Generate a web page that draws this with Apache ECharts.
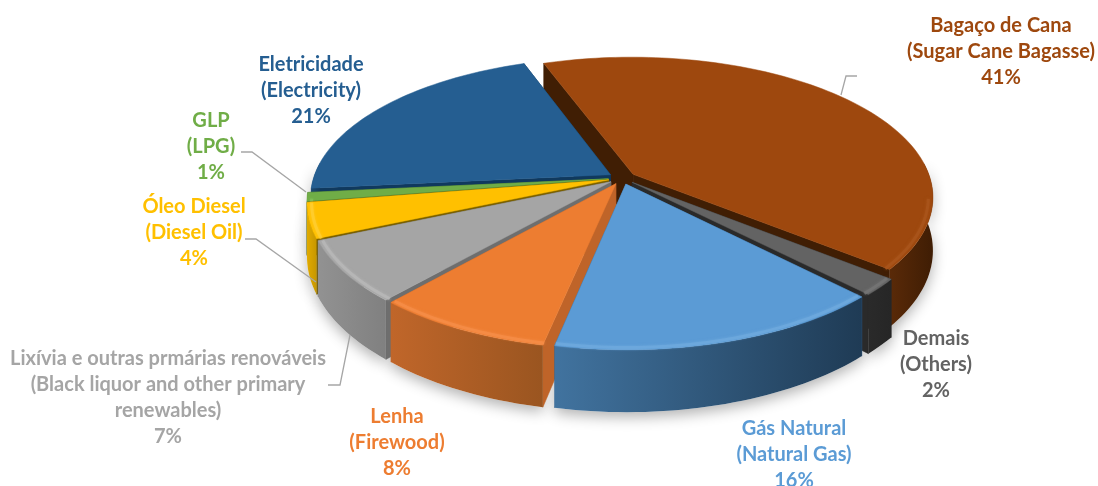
<!DOCTYPE html>
<html><head><meta charset="utf-8">
<style>html,body{margin:0;padding:0;background:#fff}#c{width:1098px;height:486px}</style>
<script src="https://cdn.jsdelivr.net/npm/echarts@6/dist/echarts.min.js"></script>
</head><body><div id="c"></div>
<script>
const categories = ['Bagaço de Cana','Demais','Gás Natural','Lenha','Lixívia e outras prmárias renováveis','Óleo Diesel','GLP','Eletricidade'];
const english = ['(Sugar Cane Bagasse)','(Others)','(Natural Gas)','(Firewood)','(Black liquor and other primary\nrenewables)','(Diesel Oil)','(LPG)','(Electricity)'];
const shares = [41.4,1.9,15.5,8.2,7,4,1,21];
const topColors = ['#9e480e','#636363','#5b9bd5','#ed7d31','#a5a5a5','#ffc000','#70ad47','#255e91'];
const rimColors = ['#a9561c','#767676','#6fa9de','#f58d48','#b8b8b8','#ffcd33','#82bd5a','#2f6ca3'];
const wallLeft  = ['#5a2a08','#2a2a2a','#41739f','#c0662a','#929292','#e0aa00','#5c9139','#1c4a73'];
const wallRight = ['#3f1d04','#262626','#1f3b55','#9a5520','#808080','#c79700','#4a7a2e','#163a5a'];
const faceColors= ['#401e04','#2a2a2a','#2f5f8d','#bf6429','#6e6e6e','#7a6000','#3f6b2b','#10395e'];
const labelColors=['#9e480e','#636363','#5b9bd5','#ed7d31','#a5a5a5','#ffc000','#70ad47','#255e91'];

// layout of the pie
const CX=622, CY=178, RX=297, RY=137, PERSP=.16, DEPTH=52, EXPL=.046, START=-20;
const labelPos=[[1001,13],[936,326],[794,416],[397,404],[168,346],[194,194],[211,108],[311,52]];
const leaders=[
 [[841,95],[846,76],[857,76]],
 [[241,152],[252,152],[306,192]],
 [[245,239],[256,239],[316,282]],
 [[350,335],[340,385],[328,385]]
];

const total=shares.reduce((a,b)=>a+b,0);
const slices=[]; let acc=START;
shares.forEach((v,i)=>{const a0=acc,a1=acc+v/total*360;acc=a1;
  const m=(a0+a1)/2*Math.PI/180; slices.push({i,a0,a1,ox:Math.sin(m)*EXPL,oy:Math.cos(m)*EXPL,my:Math.cos(m)});});
const order=slices.slice().sort((a,b)=>b.my-a.my).map(s=>s.i);

function proj(s,r,deg,z){
  const t=deg*Math.PI/180, X=Math.sin(t)*r+s.ox, Y=Math.cos(t)*r+s.oy, p=1/(1+PERSP*Y);
  return [CX+RX*X*p, CY-RY*Y*p+z*DEPTH*p];
}
function arcRange(s,a0,a1,r,z,rev){
  const n=Math.max(2,Math.ceil((a1-a0)/1.5)),pts=[];
  for(let k=0;k<=n;k++)pts.push(proj(s,r,a0+(a1-a0)*k/n,z));
  return rev?pts.reverse():pts;
}
// only the part of the rim that faces the viewer has a visible wall
function frontRange(s,lo,hi){
  const a0=Math.max(s.a0,lo), a1=Math.min(s.a1,hi);
  return a1>a0?[a0,a1]:null;
}
function grad(i){return {type:'linear',x:0,y:0,x2:1,y2:0,colorStops:[{offset:0,color:wallLeft[i]},{offset:1,color:wallRight[i]}]};}
function wall(s,g){return arcRange(s,g[0],g[1],1,0).concat(arcRange(s,g[0],g[1],1,1,true));}

function renderShadow(params,api){
  const s=slices[api.value(0)], g=frontRange(s,85,275);
  if(!g) return {type:'group',children:[]};
  return {type:'polygon',shape:{points:wall(s,g)},style:{fill:'#fff',shadowColor:'rgba(0,0,0,.3)',shadowBlur:14,shadowOffsetY:5},silent:true};
}
function renderSlice(params,api){
  const s=slices[api.value(0)], i=s.i, c0=proj(s,0,0,0), c1=proj(s,0,0,1);
  const e0=proj(s,1,s.a0,0), e0b=proj(s,1,s.a0,1), e1=proj(s,1,s.a1,0), e1b=proj(s,1,s.a1,1);
  const fs={fill:faceColors[i],stroke:faceColors[i],lineWidth:.5};
  const g=frontRange(s,85,275), rim=frontRange(s,100,262);
  const kids=[
    {type:'polygon',shape:{points:[c0,e0,e0b,c1]},style:fs},
    {type:'polygon',shape:{points:[c0,e1,e1b,c1]},style:fs}
  ];
  if(g) kids.push({type:'polygon',shape:{points:wall(s,g)},style:{fill:grad(i)}});
  kids.push({type:'polygon',shape:{points:[c0].concat(arcRange(s,s.a0,s.a1,1,0))},style:{fill:topColors[i],stroke:topColors[i],lineWidth:.5}});
  if(rim) kids.push({type:'polyline',shape:{points:arcRange(s,rim[0],rim[1],.985,.012)},style:{fill:'none',stroke:rimColors[i],lineWidth:3,opacity:.75,shadowColor:rimColors[i],shadowBlur:3}});
  return {type:'group',children:kids};
}

const font='Lato';
const graphics=[];
categories.forEach((c,i)=>{
  graphics.push({type:'text',x:labelPos[i][0],y:labelPos[i][1],z:10,style:{
    text:c+'\n'+english[i]+'\n'+Math.round(shares[i])+'%',fill:labelColors[i],font:'bold 20px '+font,lineHeight:26,align:'center',verticalAlign:'top',textAlign:'center'}});
});
leaders.forEach(p=>graphics.push({type:'polyline',z:9,shape:{points:p},style:{stroke:'#a6a6a6',lineWidth:1.3,fill:'none'}}));

const chart=echarts.init(document.getElementById('c'),null,{renderer:'canvas'});
chart.setOption({
  animation:false,
  backgroundColor:'#fff',
  graphic:graphics,
  series:[
    {type:'custom',coordinateSystem:'none',z:1,silent:true,renderItem:renderShadow,data:order.map(i=>[i]),encode:{}},
    {type:'custom',coordinateSystem:'none',z:2,renderItem:renderSlice,data:order.map(i=>({name:categories[i],value:[i,shares[i]]}))}
  ]
});
</script></body></html>
